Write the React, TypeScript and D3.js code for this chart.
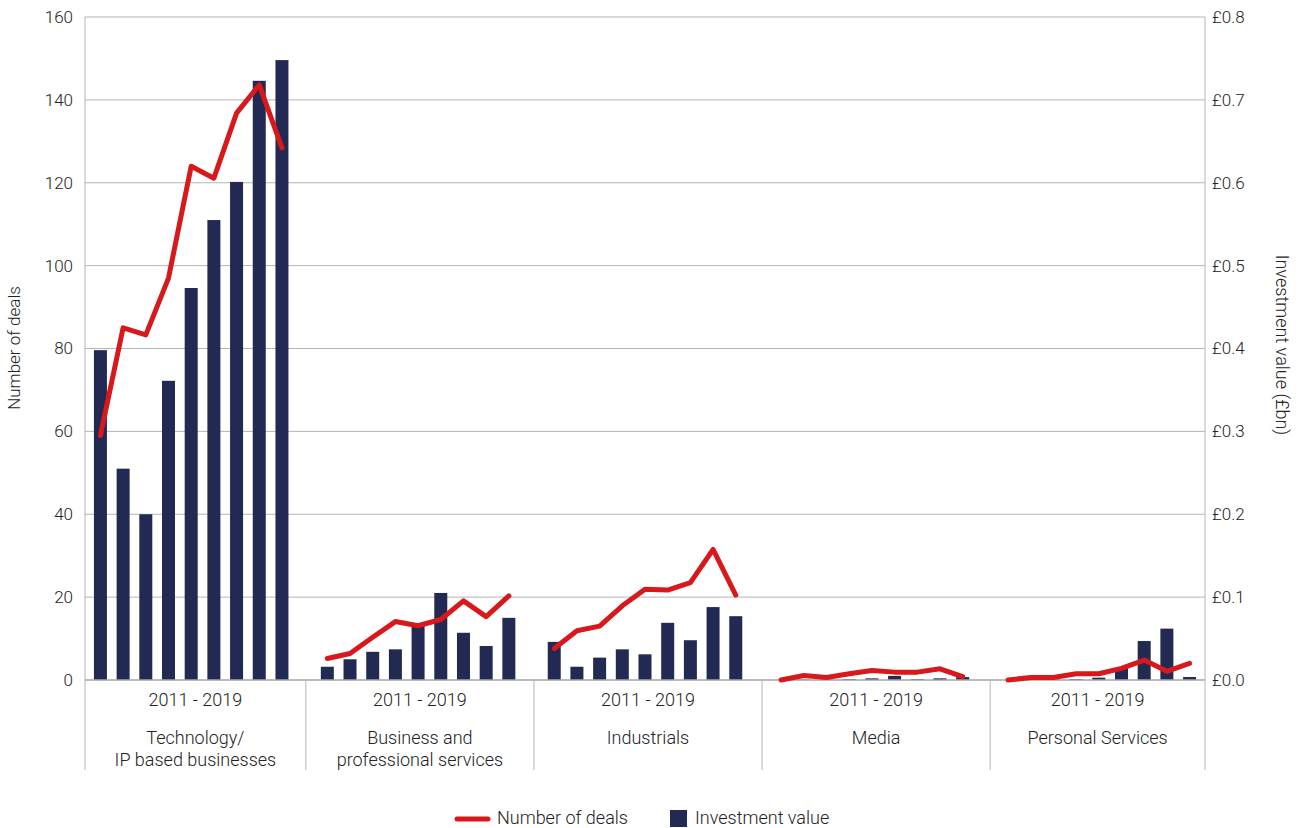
import * as d3 from "d3";

// categories (each group spans 2011 - 2019)
const sectors = [
  ["Technology/", "IP based businesses"],
  ["Business and", "professional services"],
  ["Industrials"],
  ["Media"],
  ["Personal Services"],
];
const years = ["2011", "2012", "2013", "2014", "2015", "2016", "2017", "2018", "2019"];
const periodLabel = "2011 - 2019";

// investment value (£bn), per sector, 2011..2019
const techValue = [0.398, 0.255, 0.2, 0.361, 0.473, 0.555, 0.601, 0.723, 0.748];
const businessValue = [0.016, 0.025, 0.034, 0.037, 0.065, 0.105, 0.057, 0.041, 0.075];
const industrialsValue = [0.046, 0.016, 0.027, 0.037, 0.031, 0.069, 0.048, 0.088, 0.077];
const mediaValue = [0.0, 0.0005, 0.0005, 0.001, 0.002, 0.005, 0.001, 0.002, 0.0035];
const personalValue = [0.0, 0.0, 0.0005, 0.001, 0.0028, 0.014, 0.047, 0.062, 0.0036];

// number of deals, per sector, 2011..2019
const techDeals = [59, 85, 83.3, 97, 124, 121.1, 136.8, 143.6, 128.4];
const businessDeals = [5.2, 6.4, 10.3, 14.1, 13.1, 14.6, 19.1, 15.3, 20.3];
const industrialsDeals = [7.6, 11.9, 13, 17.9, 21.9, 21.7, 23.5, 31.5, 20.5];
const mediaDeals = [0, 1.1, 0.6, 1.5, 2.3, 1.9, 1.9, 2.7, 0.8];
const personalDeals = [0, 0.6, 0.6, 1.5, 1.5, 2.8, 4.8, 2.1, 4];

const dealTicks = [0, 20, 40, 60, 80, 100, 120, 140, 160];
const valueTicks = [0, 0.1, 0.2, 0.3, 0.4, 0.5, 0.6, 0.7, 0.8];

const allValues = [techValue, businessValue, industrialsValue, mediaValue, personalValue];
const allDeals = [techDeals, businessDeals, industrialsDeals, mediaDeals, personalDeals];

const W = 1305;
const H = 828;
const LEFT = 85;
const RIGHT = 1205;
const TOP = 17;
const BOTTOM = 680;
const NAVY = "#222a53";
const RED = "#d7191c";
const GRID = "#b5b5b5";
const FONT = "Roboto, 'Noto Sans', sans-serif";

export default function App() {
  // 9 years per sector + 1 blank slot between sectors
  const slots = d3.range(sectors.length * 10 - 1);
  const x = d3.scalePoint<number>().domain(slots).range([LEFT, RIGHT]).padding(0.68);
  const barW = 13;
  const yDeals = d3.scaleLinear().domain([0, 160]).range([BOTTOM, TOP]);
  const yValue = d3.scaleLinear().domain([0, 0.8]).range([BOTTOM, TOP]);
  const slotOf = (g: number, i: number) => g * 10 + i;

  const line = d3
    .line<[number, number]>()
    .x((d) => d[0])
    .y((d) => yDeals(d[1]));

  // group dividers sit a little past the blank slot
  const dividers = [
    LEFT,
    ...d3.range(1, sectors.length).map((g) => x(g * 10 - 1)! + g * 1.2),
    RIGHT,
  ];

  return (
    <svg
      width={W}
      height={H}
      style={{ position: "absolute", left: 0, top: 0, background: "#fff" }}
      fontFamily={FONT}
      fontWeight={300}
      fill="#222"
    >
      {/* gridlines */}
      {dealTicks.slice(1).map((t) => (
        <line key={t} x1={LEFT} x2={RIGHT} y1={yDeals(t)} y2={yDeals(t)} stroke={GRID} strokeWidth={1} />
      ))}
      <line x1={LEFT} x2={LEFT} y1={TOP} y2={BOTTOM} stroke={GRID} />
      <line x1={RIGHT} x2={RIGHT} y1={TOP} y2={BOTTOM} stroke={GRID} />

      {/* bars */}
      {allValues.map((vals, g) =>
        vals.map((v, i) => (
          <rect
            key={`${g}-${years[i]}`}
            x={x(slotOf(g, i))! - barW / 2}
            y={yValue(v)}
            width={barW}
            height={BOTTOM - yValue(v)}
            fill={NAVY}
          />
        ))
      )}

      <line x1={LEFT} x2={RIGHT} y1={BOTTOM} y2={BOTTOM} stroke="#a6a6a6" strokeWidth={1.5} />

      {/* deal lines */}
      {allDeals.map((deals, g) => (
        <path
          key={g}
          d={line(deals.map((d, i) => [x(slotOf(g, i))!, d]))!}
          fill="none"
          stroke={RED}
          strokeWidth={5}
          strokeLinejoin="round"
          strokeLinecap="round"
        />
      ))}

      {/* category axis */}
      {dividers.map((d, i) => (
        <line key={i} x1={d} x2={d} y1={BOTTOM} y2={770} stroke={GRID} />
      ))}
      {sectors.map((name, g) => {
        const cx = (dividers[g] + dividers[g + 1]) / 2;
        return (
          <g key={g} textAnchor="middle" fontSize={18}>
            <text x={cx} y={706}>{periodLabel}</text>
            {name.map((ln, j) => (
              <text key={j} x={cx} y={744 + j * 22}>{ln}</text>
            ))}
          </g>
        );
      })}

      {/* left axis */}
      {dealTicks.map((t) => (
        <text key={t} x={73} y={yDeals(t)} dy="0.35em" textAnchor="end" fontSize={17}>
          {t}
        </text>
      ))}
      <text transform={`translate(20,348) rotate(-90)`} textAnchor="middle" fontSize={17}>
        Number of deals
      </text>

      {/* right axis */}
      {valueTicks.map((t) => (
        <text key={t} x={1212} y={yValue(t)} dy="0.35em" textAnchor="start" fontSize={17}>
          {`£${d3.format(".1f")(t)}`}
        </text>
      ))}
      <text transform={`translate(1276,345) rotate(90)`} textAnchor="middle" fontSize={18}>
        Investment value (£bn)
      </text>

      {/* legend */}
      <line x1={457} x2={488} y1={819} y2={819} stroke={RED} strokeWidth={5} strokeLinecap="round" />
      <text x={497} y={824} fontSize={18}>Number of deals</text>
      <rect x={670} y={810} width={17} height={17} fill={NAVY} />
      <text x={695} y={824} fontSize={18}>Investment value</text>
    </svg>
  );
}
